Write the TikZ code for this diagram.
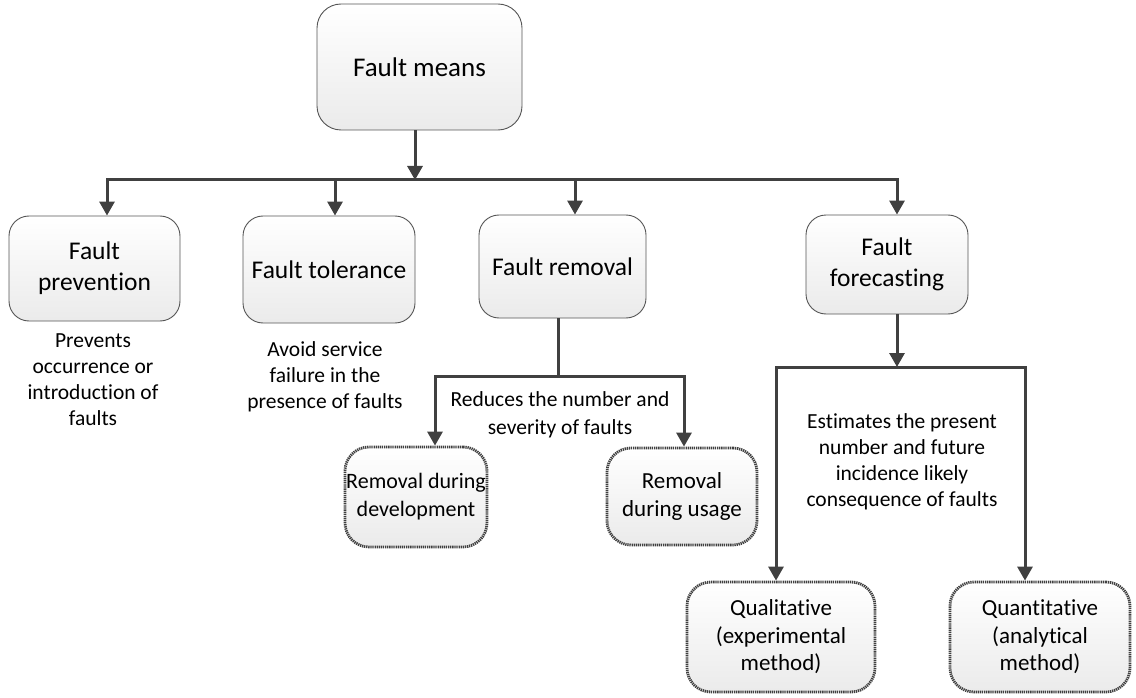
\documentclass[tikz,border=0pt]{standalone}
\usepackage{fontspec}
\setmainfont{Carlito}[RawFeature={-liga;-clig;-calt}]
\usetikzlibrary{arrows.meta}
\definecolor{ln}{HTML}{404040}
\definecolor{bd}{HTML}{555555}
\begin{document}
\begin{tikzpicture}[x=1pt,y=-1pt,
  box/.style={draw=bd, line width=0.9pt, rounded corners=20pt, top color=white, bottom color=black!8,
    align=center, inner sep=0pt, font=\fontsize{25.5}{31}\selectfont},
  dbox/.style={box, draw=ln, line width=2.8pt, dash pattern=on 1.3pt off 0.8pt, rounded corners=24pt,
    font=\fontsize{23}{27.5}\selectfont},
  desc/.style={align=center, inner sep=0pt, font=\fontsize{21.5}{26}\selectfont},
  ln/.style={draw=ln, line width=3pt, line join=miter},
  tip/.style={ln, -{Triangle[width=15pt,length=14pt]}},
  both/.style={ln, {Triangle[width=15pt,length=14pt]}-{Triangle[width=15pt,length=14pt]}}]
\useasboundingbox (0,0) rectangle (1136,698);

% boxes
\node[box, rounded corners=24pt, minimum width=205pt, minimum height=126pt, font=\fontsize{27}{32}\selectfont] (means) at (419.5,67) {Fault means};
\node[box, minimum width=171pt, minimum height=105pt] (prev) at (94.5,268.5) {Fault\\prevention};
\node[box, minimum width=172pt, minimum height=107pt] (tol) at (329,269.5) {Fault tolerance};
\node[box, minimum width=167pt, minimum height=103pt] (rem) at (562.5,266.5) {Fault removal};
\node[box, minimum width=162pt, minimum height=99pt] (fore) at (887,264.5) {Fault\\forecasting};

\node[dbox, minimum width=142pt, minimum height=100pt, font=\fontsize{22}{28}\selectfont] (dev) at (416,497) {Removal during\\development};
\node[dbox, minimum width=150pt, minimum height=97pt] (usage) at (682,496.5) {Removal\\during usage};
\node[dbox, minimum width=188pt, minimum height=110pt] (quali) at (781,637) {Qualitative\\(experimental\\method)};
\node[dbox, minimum width=180pt, minimum height=110pt] (quanti) at (1040,637) {Quantitative\\(analytical\\method)};

% descriptions
\node[desc] (prevdesc) at (93,380) {Prevents\\occurrence or\\introduction of\\faults};
\node[desc] (toldesc) at (325,376.5) {Avoid service\\failure in the\\presence of faults};
\node[desc, font=\fontsize{21.5}{27.5}\selectfont] (remdesc) at (560,415) {Reduces the number and\\severity of faults};
\node[desc] (foredesc) at (902,461.5) {Estimates the present\\number and future\\incidence likely\\consequence of faults};

% junction coordinates
\coordinate (t0) at (415,180);
\coordinate (tl) at (107,180);
\coordinate (t1) at (335,180);
\coordinate (t2) at (575,180);
\coordinate (tr) at (897,180);
\coordinate (r0) at (558,376);
\coordinate (rl) at (435,376);
\coordinate (rr) at (684,376);
\coordinate (f0) at (897,367);
\coordinate (fl) at (776,367);
\coordinate (fr) at (1025,367);

% connectors
\draw[tip] (means.south -| t0) -- (t0);
\draw[both] (tl |- prev.north) -- (tl) -- (tr) -- (tr |- fore.north);
\draw[tip] (t1) -- (t1 |- tol.north);
\draw[tip] (t2) -- (t2 |- rem.north);

\draw[ln] (rem.south -| r0) -- (r0);
\draw[both] (rl |- dev.north) -- (rl) -- (rr) -- (rr |- usage.north);

\draw[tip] (fore.south -| f0) -- (f0);
\draw[both] (fl |- quali.north) -- (fl) -- (fr) -- (fr |- quanti.north);
\end{tikzpicture}
\end{document}
